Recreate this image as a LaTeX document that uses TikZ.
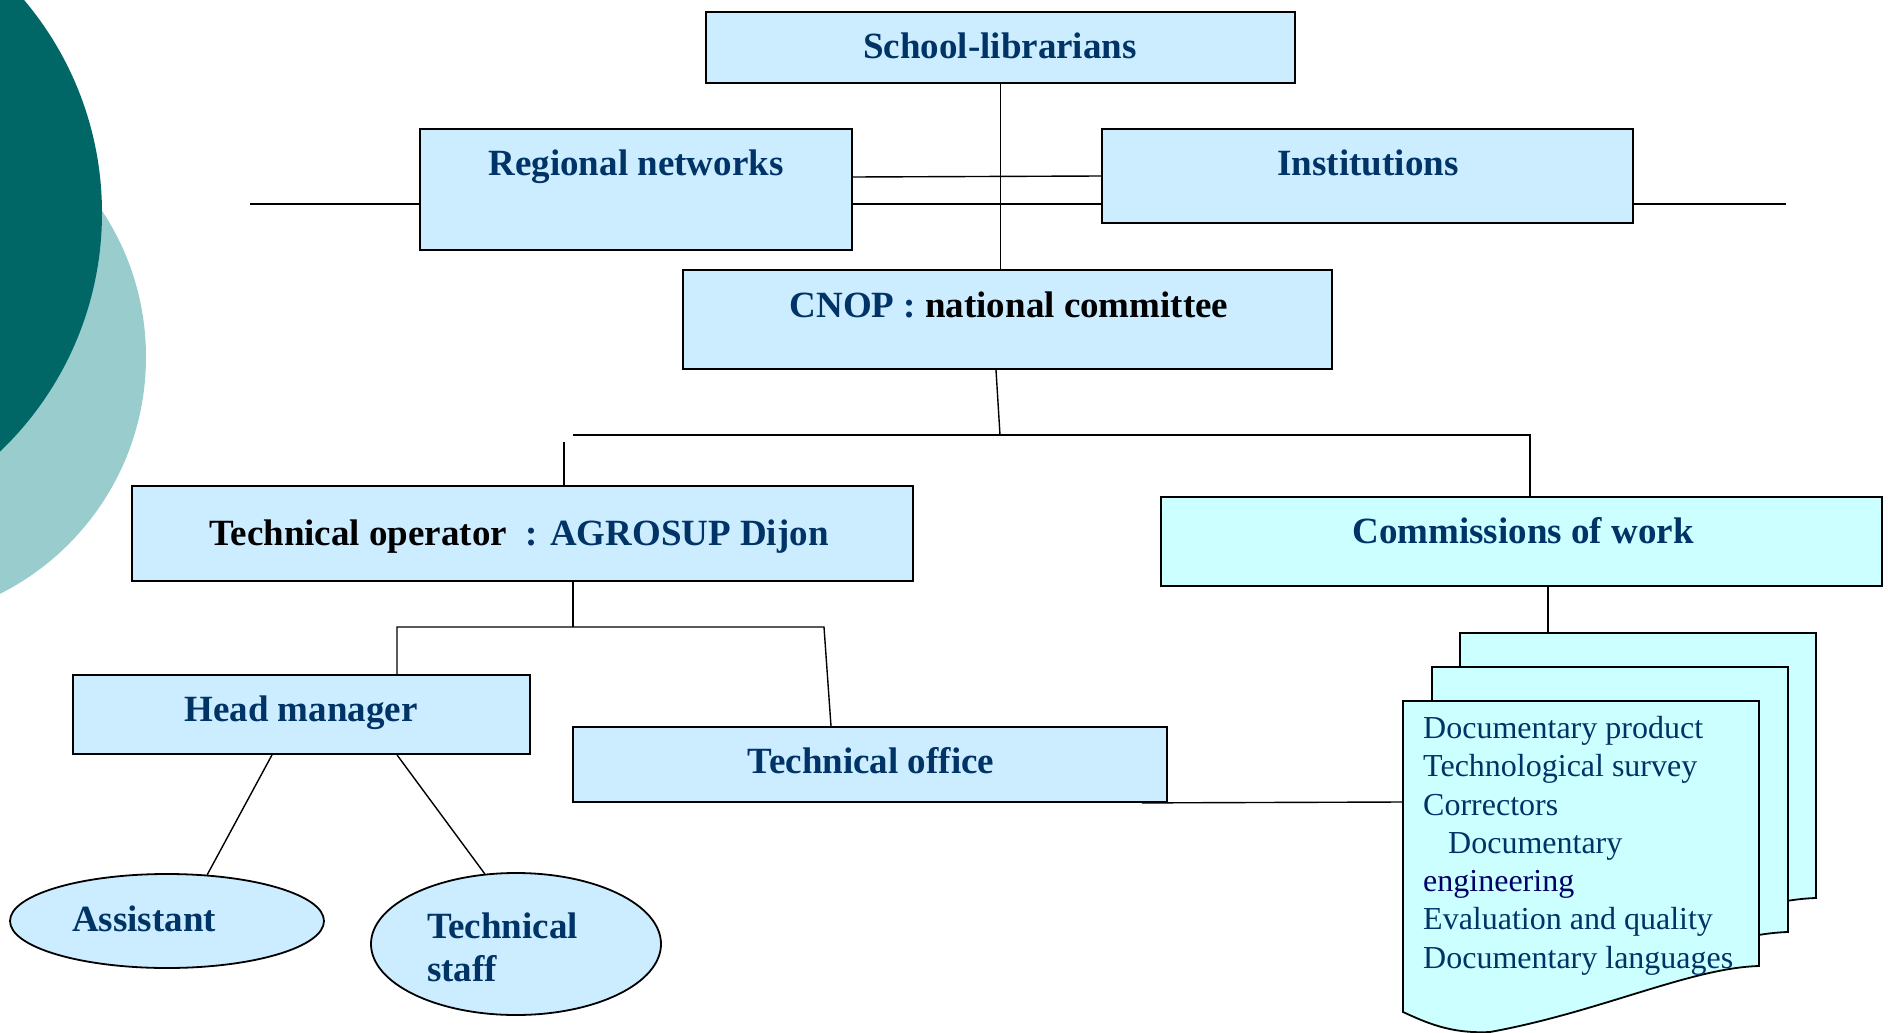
\documentclass[tikz,border=0pt]{standalone}
\usepackage{fontspec}
\setmainfont{Liberation Serif}
\usetikzlibrary{shapes.geometric}
\definecolor{boxblue}{HTML}{CCECFF}
\definecolor{boxcyan}{HTML}{CCFFFF}
\definecolor{txtblue}{HTML}{003366}
\definecolor{inkblue}{HTML}{000066}
\definecolor{darkteal}{HTML}{006666}
\definecolor{paleteal}{HTML}{99CCCC}
\newcommand{\headfont}{\fontsize{37}{43}\selectfont\bfseries}
\newcommand{\listfont}{\fontsize{32}{38.3}\selectfont}
\newcommand{\docsheet}[2]{%
  \filldraw[sheet, shift={(#1,#2)}] (1403,701) -- (1759,701) -- (1759,966)
    .. controls (1690,968) and (1600,1012) .. (1490,1032)
    .. controls (1450,1034) and (1425,1022) .. (1403,1012) -- cycle;}

\begin{document}
\begin{tikzpicture}[x=1pt, y=-1pt,
    box/.style={draw=black, line width=1.8pt, fill=boxblue, inner sep=0pt},
    oval/.style={ellipse, draw=black, line width=1.8pt, fill=boxblue, inner sep=0pt},
    title/.style={font=\headfont, text=txtblue, inner sep=0pt, anchor=base},
    conn/.style={line width=1.4pt},
    stub/.style={line width=2.4pt},
    sheet/.style={draw=black, line width=1.8pt, fill=boxcyan}]
	\useasboundingbox (0,0) rectangle (1888,1033);

	% background discs
	\begin{scope}
		\clip (0,0) rectangle (1888,1033);
		\fill[paleteal] (-119,357) circle[radius=265pt];
		\fill[darkteal] (-228,213) circle[radius=330pt];
	\end{scope}

	% boxes
	\node (school) [box, minimum width=589pt, minimum height=71pt] at (1000.5,47.5) {};
	\node (regnet) [box, minimum width=432pt, minimum height=121pt] at (636,189.5) {};
	\node (inst) [box, minimum width=531pt, minimum height=94pt] at (1367.5,176) {};
	\node (cnop) [box, minimum width=649pt, minimum height=99pt] at (1007.5,319.5) {};
	\node (techop) [box, minimum width=781pt, minimum height=95pt] at (522.5,533.5) {};
	\node (commis) [box, fill=boxcyan, minimum width=721pt, minimum height=89pt] at (1521.5,541.5) {};
	\node (headman) [box, minimum width=457pt, minimum height=79pt] at (301.5,714.5) {};
	\node (techoff) [box, minimum width=594pt, minimum height=75pt] at (870,764.5) {};
	\node (assist) [oval, minimum width=314pt, minimum height=94pt] at (167,921) {};
	\node (techstaff) [oval, minimum width=290pt, minimum height=142pt] at (516,944) {};

	% labels
	\node (school-t) [title] at (1000,59) {School-librarians};
	\node (regnet-t) [title] at (636,175) {Regional networks};
	\node (inst-t) [title] at (1368,175) {Institutions};
	\node (cnop-t) [title] at (1009,317) {CNOP : \textcolor{black}{national committee}};
	\node (techop-t) [title] at (519,545) {\textcolor{black}{Technical operator}\ \ : AGROSUP Dijon};
	\node (commis-t) [title] at (1523,543) {Commissions of work};
	\node (headman-t) [title] at (301,721) {Head manager};
	\node (techoff-t) [title] at (871,773) {Technical office};
	\node (assist-t) [title] at (144,931) {Assistant};
	\node (techstaff-t) [title, anchor=north west, align=left] at (427,913) {Technical\\staff};

	% documents
	\docsheet{57}{-68}
	\docsheet{29}{-34}
	\docsheet{0}{0}
	\node (doclist) [font=\listfont, text=txtblue, inner sep=0pt, anchor=north west, align=left] at (1423,716)
		{Documentary product\\Technological survey\\Correctors\\\hspace*{25pt}Documentary\\\textcolor{inkblue}{engineering}\\Evaluation and quality\\Documentary languages};
	\coordinate (docback) at (1548,633);
	\coordinate (docfront) at (1403,802);

	% links
	\coordinate (stubL) at (250,204);
	\coordinate (stubR) at (1786,204);
	\draw[stub] (stubL) -- (stubL -| regnet.west);
	\draw[stub] (stubL -| regnet.east) -- (stubL -| inst.west);
	\draw[stub] (stubL -| inst.east) -- (stubR);
	\draw[conn] ([yshift=12.5pt]regnet.east) -- (inst.west);
	\draw[conn] (school.south) -- (school.south |- cnop.north);

	\coordinate (hub) at (1000,435);
	\coordinate (brL) at (573,435);
	\coordinate (brR) at (1530,435);
	\coordinate (tlink) at (564,442);
	\draw[conn] ([xshift=-11.5pt]cnop.south) -- (hub);
	\draw[conn] (brL) -- (brR) -- (brR |- commis.north);
	\draw[conn] (tlink) -- (tlink |- techop.north);

	\coordinate (sub) at (573,627);
	\coordinate (subL) at (397,627);
	\coordinate (subR) at (824,627);
	\draw[conn] (sub |- techop.south) -- (sub);
	\draw[conn] (subL |- headman.north) -- (subL) -- (subR) -- ([xshift=-39pt]techoff.north);
	\draw[conn] ([xshift=-29.5pt]headman.south) -- (assist.49);
	\draw[conn] ([xshift=95.5pt]headman.south) -- (techstaff.114);

	\draw[conn] (docback |- commis.south) -- (docback);
	\draw[conn] ([xshift=-26pt]techoff.south east) -- (docfront);
\end{tikzpicture}
\end{document}
